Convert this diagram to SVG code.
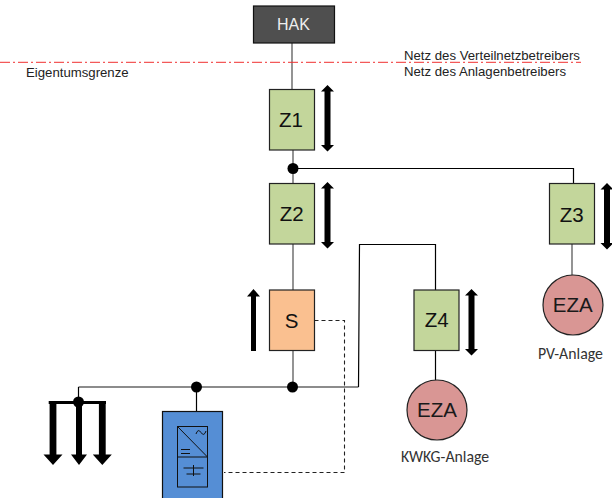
<svg xmlns="http://www.w3.org/2000/svg" width="612" height="498" viewBox="0 0 612 498">
<style>
text{font-family:"Liberation Sans",Arial,sans-serif;fill:#1a1a1a}
.cal{font-family:"Carlito","Open Sans","Noto Sans",sans-serif;font-size:15.800px;fill:#333}
.n{font-size:13.200px;fill:#222}
.l{font-size:20.500px;text-anchor:middle;fill:#111}
.w{fill:none;stroke:#000;stroke-width:1.2}
.g{fill:none;stroke:#666;stroke-width:1.4}
.box{stroke:#222;stroke-width:1.2}
.z{fill:#c3d69b}
.ar{fill:#000;stroke:none}
.d{fill:#000}
</style>
<defs>
<path id="dbl" class="ar" d="M0 0L6.500 6.500H3V60H6.500L0 66.500L-6.500 60H-3V6.500H-6.500Z"/>
<path id="dn" class="ar" d="M-3.400 0H3.400V52.500H9.500L0 63L-9.500 52.500H-3.400Z"/>
<path id="dn2" class="ar" d="M-3 0H3V52.500H8L0 63L-8 52.500H-3Z"/>
</defs>
<g id="connectors">
<path class="g" d="M292 43V89"/>
<path class="g" d="M293 150V183"/>
<path class="w" d="M293 168.500H573.500V183"/>
<path class="g" d="M293 244V290"/>
<path class="g" d="M293 350V387"/>
<path class="g" d="M78.500 387H358.500"/>
<path class="w" d="M78.500 387V402"/>
<path class="w" d="M358.500 387L359.500 244.500H435.500V290"/>
<path class="w" d="M435.500 350V380"/>
<path class="g" d="M572 244V275"/>
<path class="w" d="M196.500 387V411"/>
<path d="M314.500 320.500H344.500V472.500H224" fill="none" stroke="#222" stroke-width="1.1" stroke-dasharray="4 3"/>
<path d="M0 62.300H581" fill="none" stroke="#f03030" stroke-width="1" stroke-dasharray="10 3 2 3"/>
<circle class="d" cx="293" cy="168.500" r="5.500"/>
<circle class="d" cx="292.500" cy="387" r="5.500"/>
<circle class="d" cx="196.500" cy="387" r="5.500"/>
<circle class="d" cx="78.500" cy="402" r="5.500"/>
</g>
<g id="hak"><rect x="253.500" y="6" width="81" height="37" fill="#4f4f4f" stroke="#111" stroke-width="1.2"/><text x="293.500" y="30" font-size="16" text-anchor="middle" style="fill:#eee">HAK</text></g>
<g id="z1"><rect class="box z" x="269.500" y="89.500" width="45" height="60.500"/><text class="l" x="291" y="126.500">Z1</text><use href="#dbl" x="327.500" y="85"/></g>
<g id="z2"><rect class="box z" x="269.500" y="183.500" width="45" height="60.500"/><text class="l" x="291.700" y="220.700">Z2</text><use href="#dbl" x="327.500" y="182"/></g>
<g id="z3"><rect class="box z" x="549.500" y="183.500" width="45" height="60.500"/><text class="l" x="571.700" y="221.500">Z3</text><use href="#dbl" x="607" y="183"/></g>
<g id="z4"><rect class="box z" x="414" y="290" width="45" height="60.500"/><text class="l" x="436.700" y="327.300">Z4</text><use href="#dbl" x="471.500" y="289"/></g>
<g id="s"><rect class="box" x="269.500" y="290" width="45" height="60.500" fill="#fac090"/><text class="l" x="291.700" y="327.500">S</text><path class="ar" d="M253.500 289L260 296.500H256V351H251V296.500H247Z"/></g>
<g id="eza-pv"><circle cx="573" cy="305" r="30" fill="#d99694" stroke="#222" stroke-width="1.2"/><text x="572.700" y="311.700" font-size="20.500" text-anchor="middle">EZA</text></g>
<g id="eza-kwkg"><circle cx="437" cy="410" r="30" fill="#d99694" stroke="#222" stroke-width="1.2"/><text x="437" y="416.700" font-size="20.500" text-anchor="middle">EZA</text></g>
<g id="wechselrichter">
<rect x="162.500" y="411.500" width="60" height="88" fill="#558ed5" stroke="#111" stroke-width="1.2"/>
<rect x="177.500" y="426.500" width="30" height="60.500" fill="none" stroke="#111" stroke-width="1"/>
<path d="M177.500 426.500L207.500 457M177.500 457H207.500M181 449.500H190M181 453.500H190M183.500 468H203.500M186.500 474H200.500M193.500 465V476" fill="none" stroke="#111" stroke-width="1"/>
<path d="M196 434Q198 428 201 432.500T206 431" fill="none" stroke="#111" stroke-width="1"/>
</g>
<g id="last"><path class="ar" d="M48.700 401H106V404H48.700Z"/><use href="#dn" x="53" y="402"/><use href="#dn2" x="79" y="402"/><use href="#dn" x="102.300" y="402"/></g>
<text class="n" x="404" y="60">Netz des Verteilnetzbetreibers</text>
<text class="n" x="404" y="76">Netz des Anlagenbetreibers</text>
<text class="n" x="26" y="77">Eigentumsgrenze</text>
<text class="cal" x="538" y="359">PV-Anlage</text>
<text class="cal" x="401" y="462.300">KWKG-Anlage</text>
</svg>
